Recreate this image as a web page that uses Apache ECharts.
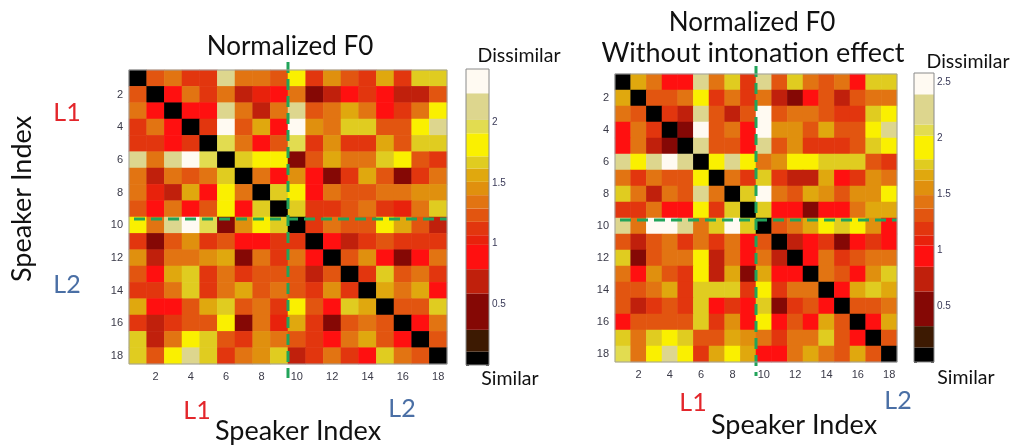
<!DOCTYPE html>
<html><head><meta charset="utf-8">
<script src="https://cdn.jsdelivr.net/npm/echarts@6/dist/echarts.min.js"></script>
<style>html,body{margin:0;padding:0;background:#fff}#c{width:1017px;height:446px}</style>
</head><body><div id="c"></div>
<script>
const speakers = ['1','2','3','4','5','6','7','8','9','10','11','12','13','14','15','16','17','18'];
const tickLabels = ['2','4','6','8','10','12','14','16','18'];
const groupSplit = 9; // L1 = speakers 1-9, L2 = speakers 10-18

const leftValues = [
[0.05,1.23,1.35,1.12,1.10,2.10,1.35,1.35,1.25,1.80,1.10,1.45,1.23,1.12,1.56,1.10,1.67,1.67],
[1.23,0.05,0.90,1.30,1.10,1.38,0.78,1.02,0.90,1.35,0.45,0.70,0.90,1.10,0.90,0.72,0.72,1.20],
[1.35,0.90,0.05,0.90,0.92,2.10,1.38,0.72,1.36,2.10,1.28,1.30,1.56,1.30,0.90,1.15,1.38,1.80],
[1.12,1.30,0.90,0.05,1.08,2.35,1.25,1.56,0.90,2.35,1.50,1.30,1.67,1.67,1.22,1.22,1.80,2.10],
[1.10,1.10,0.92,1.08,0.05,2.00,1.35,0.90,1.25,1.95,1.10,1.50,1.10,1.10,1.56,1.23,1.65,1.62],
[2.10,1.38,2.10,2.35,2.00,0.05,1.68,1.80,1.80,0.45,1.22,1.55,1.35,1.37,1.68,1.80,1.22,1.12],
[1.35,0.78,1.38,1.25,1.35,1.68,0.05,1.33,0.90,1.47,0.90,0.45,1.10,1.55,1.25,0.42,1.10,1.37],
[1.35,1.02,0.72,1.56,0.90,1.80,1.33,0.05,1.62,1.80,0.90,1.37,1.23,1.23,1.37,1.32,1.45,1.45],
[1.25,0.90,1.36,0.90,1.25,1.80,0.90,1.62,0.05,1.67,1.15,1.13,1.25,1.35,1.10,1.00,1.37,1.67],
[1.80,1.35,2.10,2.35,1.95,0.45,1.47,1.80,1.67,0.05,1.10,1.37,1.25,1.25,1.80,1.60,1.23,0.72],
[1.10,0.45,1.28,1.50,1.10,1.22,0.90,0.90,1.15,1.10,0.05,0.90,0.75,1.10,1.23,1.10,1.10,1.10],
[1.45,0.70,1.30,1.30,1.50,1.55,0.45,1.37,1.13,1.37,0.90,0.05,1.28,1.45,0.90,0.45,0.90,1.35],
[1.23,0.90,1.56,1.67,1.10,1.35,1.10,1.23,1.25,1.25,0.75,1.28,0.05,1.10,1.67,1.23,1.37,1.12],
[1.12,1.10,1.30,1.67,1.10,1.37,1.55,1.23,1.35,1.25,1.10,1.45,1.10,0.05,1.55,1.37,1.55,0.90],
[1.56,0.90,0.90,1.22,1.56,1.68,1.25,1.37,1.10,1.80,1.23,0.90,1.67,1.55,0.05,1.23,1.23,1.67],
[1.10,0.72,1.15,1.22,1.23,1.80,0.42,1.32,1.00,1.60,1.10,0.45,1.23,1.37,1.23,0.05,0.90,1.37],
[1.67,0.72,1.38,1.80,1.65,1.22,1.10,1.45,1.37,1.23,1.10,0.90,1.37,1.55,1.23,0.90,0.05,1.23],
[1.67,1.20,1.80,2.10,1.62,1.12,1.37,1.45,1.67,0.72,1.10,1.35,1.12,0.90,1.67,1.37,1.23,0.05]
];

const rightValues = [
[0.05,1.67,1.43,0.95,0.95,2.25,1.43,1.76,1.18,2.25,1.30,1.74,1.43,1.30,1.43,0.95,1.76,1.76],
[1.67,0.05,1.30,1.35,1.43,1.90,1.18,1.43,1.18,1.43,0.80,0.50,0.95,1.32,0.75,1.32,1.43,1.43],
[1.43,1.30,0.05,1.18,0.75,2.25,1.30,0.68,1.32,2.48,1.30,1.43,1.43,1.30,1.18,1.20,1.72,1.90],
[0.95,1.40,1.18,0.05,0.50,2.48,1.30,1.43,0.95,2.48,1.55,1.55,1.32,1.62,1.30,1.30,1.90,2.25],
[0.95,1.43,0.75,0.50,0.05,2.25,1.30,1.30,0.95,2.25,1.30,1.55,1.18,1.18,1.18,1.30,1.74,1.90],
[2.25,1.90,2.25,2.48,2.25,0.05,1.90,2.25,1.90,1.43,1.55,1.90,1.90,1.76,1.76,1.74,1.30,1.18],
[1.43,1.18,1.43,1.30,1.30,1.90,0.05,1.43,1.18,1.74,1.18,0.68,0.68,1.62,0.95,1.18,1.55,1.43],
[1.76,1.43,0.68,1.43,1.30,2.25,1.43,0.05,1.72,2.48,1.43,1.32,1.62,1.60,1.32,1.55,1.55,1.90],
[1.18,1.18,1.43,0.95,0.95,1.90,1.18,1.74,0.05,1.72,0.95,0.95,0.50,0.95,0.95,1.43,1.62,1.62],
[2.25,1.43,2.48,2.48,2.25,1.43,1.74,2.48,1.72,0.05,1.32,1.43,1.62,1.90,1.74,1.90,1.55,0.95],
[1.30,0.75,1.30,1.43,1.18,1.43,1.18,1.43,0.95,1.32,0.05,0.72,0.95,1.18,0.50,0.95,1.18,0.95],
[1.72,0.50,1.32,1.43,1.43,1.90,0.68,1.43,0.95,1.43,0.75,0.05,0.95,1.43,1.20,1.30,1.43,1.43],
[1.43,0.95,1.55,1.32,1.18,1.90,0.68,1.62,0.50,1.62,0.95,0.95,0.05,1.43,1.30,0.95,1.55,1.72],
[1.30,1.35,1.43,1.62,1.18,1.76,1.74,1.74,1.20,1.90,1.18,1.43,1.43,0.05,0.95,1.62,1.78,1.62],
[1.30,0.75,1.18,1.30,1.18,1.76,0.95,1.18,0.95,1.74,0.50,1.20,1.30,0.95,0.05,1.30,1.30,1.43],
[0.95,1.32,1.32,1.30,1.30,1.74,1.18,1.55,0.95,1.90,0.95,1.30,0.95,1.62,1.30,0.05,0.95,1.62],
[1.76,1.43,1.74,1.90,1.76,1.30,1.30,1.62,1.55,1.43,1.18,1.43,1.43,1.78,1.30,0.95,0.05,1.30],
[2.07,1.43,1.90,2.25,1.90,1.18,1.62,1.90,1.62,0.95,0.95,1.43,1.62,1.43,1.32,1.62,1.30,0.05]
];

// colormap bands (bottom -> top)
const bandColors = ['#000000','#3d1a02','#850805','#c0200c','#ff1010','#e8220c','#e2360e','#e25510',
                    '#e27412','#e0900e','#e0a80e','#e0cc20','#faf000','#e2dc50','#ddd68e','#fffaf2'];
const leftBandEdges  = [0,0.11,0.29,0.59,0.79,0.99,1.07,1.18,1.29,1.40,1.51,1.62,1.72,1.91,2.02,2.24,2.44];
const rightBandEdges = [0,0.13,0.32,0.63,0.85,1.04,1.13,1.25,1.37,1.49,1.62,1.72,1.81,2.02,2.12,2.39,2.58];
const leftBarTicks  = [0.5,1,1.5,2];
const rightBarTicks = [0.5,1,1.5,2,2.5];

const FONT = 'Lato';
const divColor = '#22a45a';

function toCells(m){ const out=[]; m.forEach((row,r)=>row.forEach((v,c)=>out.push([c,r,v]))); return out; }
function pieces(edges){ return bandColors.map((col,i)=>({gte:edges[i], lt:(i===bandColors.length-1?99:edges[i+1]), color:col})); }
function bands(edges){ return bandColors.map((c,i)=>[0,edges[i],edges[i+1],i]); }

function heatX(g){ return {type:'category', gridIndex:g, data:speakers,
  axisLine:{show:false},
  axisTick:{show:true, inside:true, length:3, alignWithLabel:true, interval:(i,v)=>tickLabels.includes(v), lineStyle:{color:'#444'}},
  axisLabel:{interval:(i,v)=>tickLabels.includes(v), color:'#3a3a48', fontSize:11, margin:7, fontFamily:'Liberation Sans'},
  splitLine:{show:false}}; }
function heatY(g){ return {type:'category', gridIndex:g, data:speakers, inverse:true,
  axisLine:{show:false},
  axisTick:{show:true, inside:true, length:3, alignWithLabel:true, interval:(i,v)=>tickLabels.includes(v), lineStyle:{color:'#444'}},
  axisLabel:{interval:(i,v)=>tickLabels.includes(v), color:'#3a3a48', fontSize:11, margin:6, fontFamily:'Liberation Sans'},
  splitLine:{show:false}}; }
function barY(g, max, ticks, pos, showLabel){ return {type:'value', gridIndex:g, min:0, max:max, interval:0.5, position:pos,
  axisLine:{show:false}, splitLine:{show:false},
  axisTick:{show:true, inside:true, length:3, lineStyle:{color:'#444'}},
  axisLabel:{show:showLabel, margin:3, fontSize:10, color:'#3a3a58', fontFamily:'Liberation Sans',
    formatter:v=>ticks.some(t=>Math.abs(t-v)<1e-9)?String(v):''}}; }

const divider = (gi)=>({type:'custom', xAxisIndex:gi, yAxisIndex:gi, data:[[groupSplit]], z:5, silent:true,
  renderItem:(params, api)=>{
    const cs = params.coordSys; const k = api.value(0);
    const sz = api.size([1,1]);
    const x = api.coord([k,0])[0] - sz[0]/2;
    const y = api.coord([0,k])[1] - sz[1]/2 + 2;
    const st = {stroke:divColor, lineWidth:3, lineDash:[11,6], fill:null};
    return {type:'group', children:[
      {type:'line', shape:{x1:x, y1:cs.y-8, x2:x, y2:cs.y+cs.height+14}, style:st},
      {type:'line', shape:{x1:cs.x+5, y1:y, x2:cs.x+cs.width, y2:y}, style:st}
    ]};
  }});
const frame = (xi, yi, color)=>({type:'custom', xAxisIndex:xi, yAxisIndex:yi, data:[[0]], z:6, silent:true,
  renderItem:(params)=>{ const cs=params.coordSys;
    return {type:'rect', shape:{x:cs.x, y:cs.y, width:cs.width, height:cs.height}, style:{fill:null, stroke:color, lineWidth:1}}; }});
const colorbar = (xi, yi, edges)=>({type:'custom', xAxisIndex:xi, yAxisIndex:yi, data:bands(edges), silent:true,
  encode:{x:0, y:[1,2]},
  renderItem:(params, api)=>{ const cs=params.coordSys;
    const yTop = api.coord([0, api.value(2)])[1], yBot = api.coord([0, api.value(1)])[1];
    return {type:'rect', shape:{x:cs.x, y:yTop, width:cs.width, height:yBot-yTop}, style:{fill:bandColors[api.value(3)]}}; }});

const txt = (t, x, y, size, color, extra)=>Object.assign({type:'text', x:x, y:y, silent:true,
  style:{text:t, fontSize:size, fontFamily:FONT, fill:color||'#111', textAlign:'center', textVerticalAlign:'middle'}}, extra||{});

const chart = echarts.init(document.getElementById('c'));
chart.setOption({
  animation:false,
  backgroundColor:'#fff',
  grid:[
    {left:129, top:70, width:318, height:294},
    {left:615, top:74, width:282, height:288},
    {left:466, top:69, width:23, height:296},
    {left:914, top:73, width:20, height:289}
  ],
  xAxis:[heatX(0), heatX(1),
    {type:'category', gridIndex:2, data:['c'], show:false},
    {type:'category', gridIndex:3, data:['c'], show:false}],
  yAxis:[heatY(0), heatY(1),
    barY(2, 2.44, leftBarTicks, 'right', true),
    barY(3, 2.58, rightBarTicks, 'right', true),
    barY(2, 2.44, leftBarTicks, 'left', false),
    barY(3, 2.58, rightBarTicks, 'left', false)],
  visualMap:[
    {type:'piecewise', show:false, seriesIndex:0, dimension:2, pieces:pieces(leftBandEdges)},
    {type:'piecewise', show:false, seriesIndex:1, dimension:2, pieces:pieces(rightBandEdges)}
  ],
  series:[
    {type:'heatmap', xAxisIndex:0, yAxisIndex:0, data:toCells(leftValues), itemStyle:{borderWidth:0}},
    {type:'heatmap', xAxisIndex:1, yAxisIndex:1, data:toCells(rightValues), itemStyle:{borderWidth:0}},
    colorbar(2, 2, leftBandEdges),
    colorbar(3, 3, rightBandEdges),
    frame(0, 0, '#a0a0a0'), frame(1, 1, '#a0a0a0'),
    frame(2, 2, '#8a8a8a'), frame(3, 3, '#8a8a8a'),
    divider(0), divider(1)
  ],
  graphic:[
    txt('Normalized F0', 290, 47, 26),
    txt('Normalized F0', 752, 23, 26),
    txt('Without intonation effect', 753, 53, 27),
    txt('Dissimilar', 519, 56, 19.5),
    txt('Similar', 510, 379, 19.5),
    txt('Dissimilar', 968, 62, 19.5),
    txt('Similar', 966, 378, 19.5),
    txt('L1', 67, 113, 25, '#e3262b'),
    txt('L2', 67, 285, 25, '#4a6fa5'),
    txt('Speaker Index', 22, 199, 27, '#111', {rotation:Math.PI/2}),
    txt('L1', 197, 411, 25, '#e3262b'),
    txt('L2', 402, 409, 25, '#4a6fa5'),
    txt('Speaker Index', 298, 431, 27),
    txt('L1', 693, 403, 25, '#e3262b'),
    txt('Speaker Index', 794, 425, 27),
    txt('L2', 898, 401, 25, '#4a6fa5')
  ]
});
</script></body></html>
